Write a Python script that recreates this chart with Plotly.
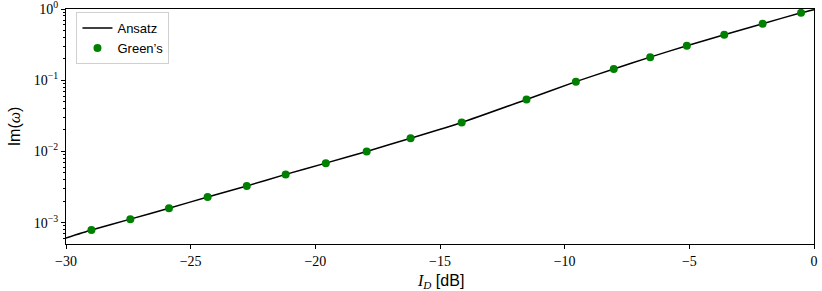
import plotly.graph_objects as go

# Green's function points
greens_x = [-28.98, -27.42, -25.87, -24.32, -22.75, -21.19, -19.58, -17.94, -16.18,
            -14.13, -11.53, -9.55, -8.03, -6.57, -5.10, -3.60, -2.06, -0.52]
greens_y = [7.9e-4, 1.12e-3, 1.59e-3, 2.29e-3, 3.27e-3, 4.76e-3, 6.85e-3, 1.0e-2, 1.53e-2,
            2.55e-2, 5.37e-2, 9.55e-2, 0.1435, 0.211, 0.305, 0.435, 0.621, 0.885]

# Ansatz curve
ansatz_x = [-30.0] + greens_x + [0.0]
ansatz_y = [6.1e-4] + greens_y + [0.98]

x_ticks = [-30, -25, -20, -15, -10, -5, 0]
x_ticktext = ["−30", "−25", "−20", "−15", "−10", "−5", "0"]
y_ticks = [1e-3, 1e-2, 1e-1, 1]
y_ticktext = ["10<sup>−3</sup>", "10<sup>−2</sup>", "10<sup>−1</sup>", "10<sup>0</sup>"]

minor_y = [k * 10.0 ** e for e in range(-4, 0) for k in range(2, 10)]

SERIF = "Liberation Serif"
SANS = "Liberation Sans"

fig = go.Figure()
fig.add_trace(go.Scatter(
    x=ansatz_x, y=ansatz_y, mode="lines", name="Ansatz",
    line=dict(color="black", width=1.5, shape="spline", smoothing=0.6),
))
fig.add_trace(go.Scatter(
    x=greens_x, y=greens_y, mode="markers", name="Green’s",
    marker=dict(color="#008000", size=8),
))

fig.update_layout(
    width=822, height=291,
    margin=dict(l=66, r=8, t=9, b=47),
    plot_bgcolor="white", paper_bgcolor="white",
    font=dict(family=SANS, size=13, color="black"),
    legend=dict(
        x=0.014, y=0.987, xanchor="left", yanchor="top",
        bgcolor="rgba(255,255,255,0.8)", bordercolor="#d0d0d0", borderwidth=1,
        font=dict(family=SANS, size=13), tracegroupgap=0, itemwidth=30,
    ),
    xaxis=dict(
        range=[-30, 0.0001], tickvals=x_ticks, ticktext=x_ticktext,
        tickfont=dict(family=SERIF, size=14), ticklabeloverflow="allow",
        showgrid=False, zeroline=False, automargin=False,
        showline=True, mirror=True, linecolor="black", linewidth=1.2,
        ticks="outside", ticklen=4, tickwidth=1, tickcolor="black",
    ),
    yaxis=dict(
        type="log", range=[-3.30, 0.0002], tickvals=y_ticks, ticktext=y_ticktext,
        tickfont=dict(family=SERIF, size=14), ticklabeloverflow="allow",
        showgrid=False, zeroline=False, automargin=False,
        showline=True, mirror=True, linecolor="black", linewidth=1.2,
        ticks="outside", ticklen=4, tickwidth=1, tickcolor="black",
        minor=dict(tickvals=minor_y, ticks="outside", ticklen=2, tickcolor="black", showgrid=False),
        title=dict(
            text="Im(<span style='font-family:Liberation Serif'><i>ω</i></span>)",
            font=dict(family=SANS, size=16), standoff=9,
        ),
    ),
    annotations=[dict(
        text="<span style='font-family:Liberation Serif'><i>I<sub>D</sub></i></span> [dB]",
        font=dict(family=SANS, size=16), showarrow=False,
        xref="paper", yref="paper", x=0.5, y=-0.16, xanchor="center", yanchor="middle",
    )],
)

# drop the browser's default body margin so the figure sits at the page corner
fig.write_html("out.html", config={"displayModeBar": False},
               post_script="document.body.style.margin='0';")
